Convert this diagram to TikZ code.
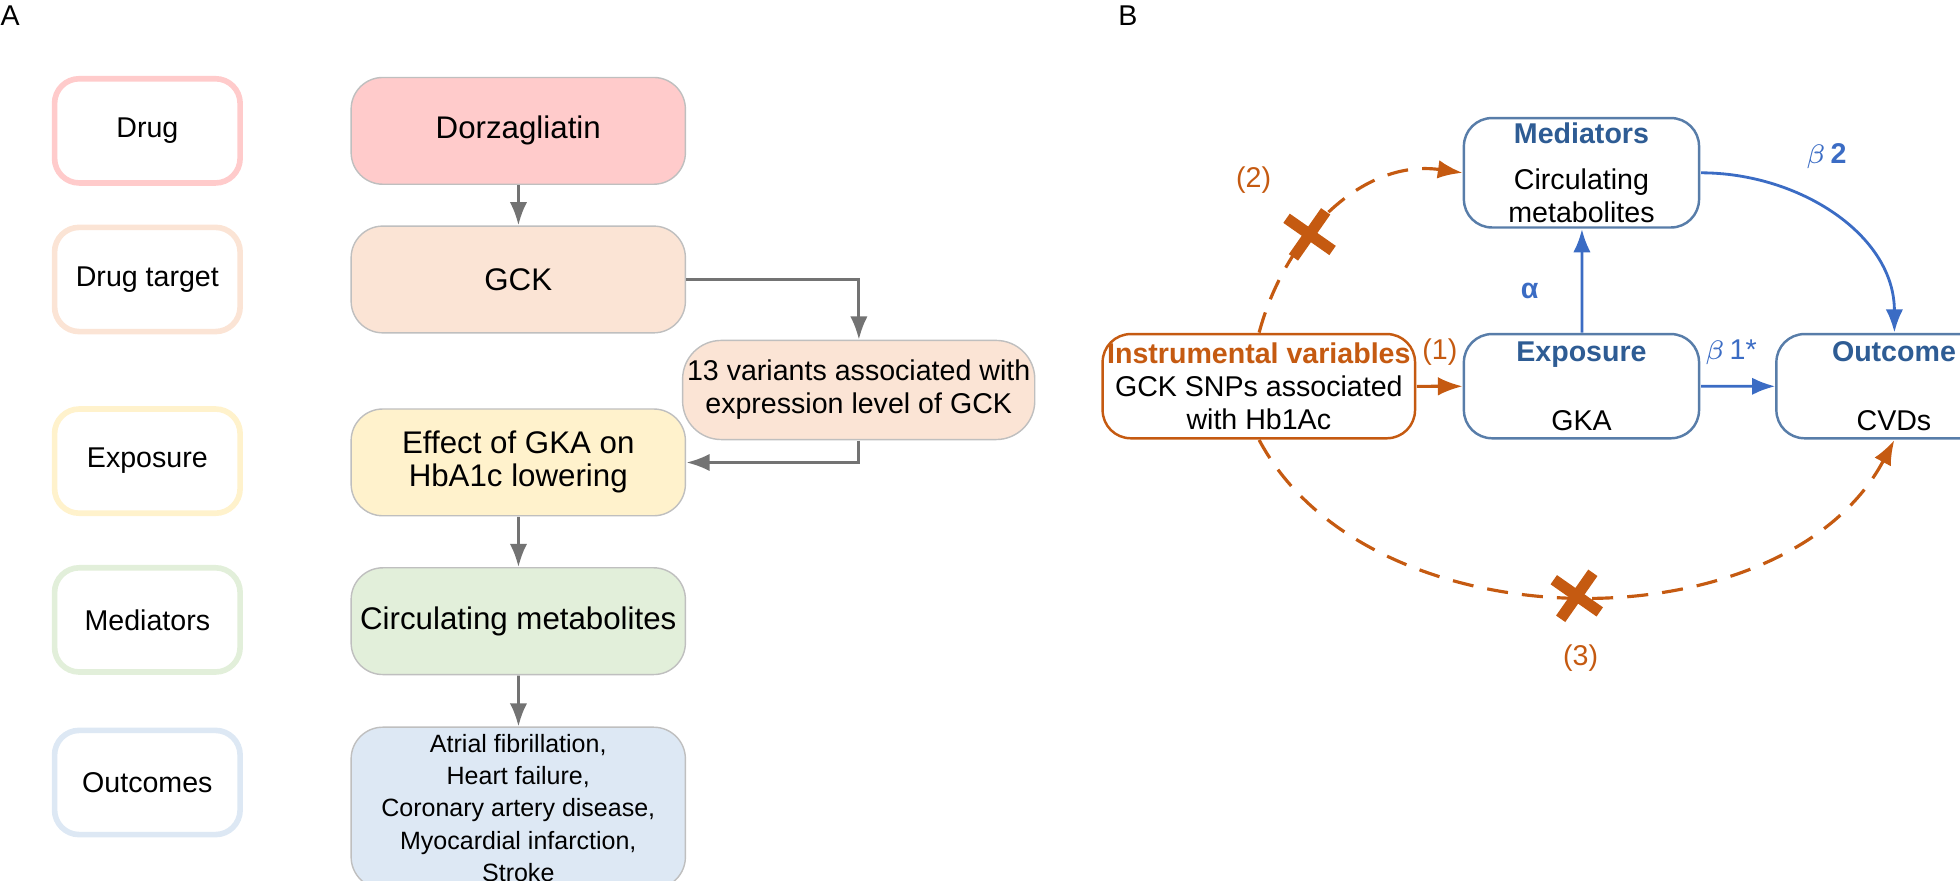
\documentclass[tikz,border=0pt]{standalone}
\usepackage{fontspec}
\setmainfont{Liberation Sans}
\usetikzlibrary{positioning,arrows.meta,shapes.misc}
\definecolor{rDrug}{HTML}{FFCBCB}
\definecolor{rTarget}{HTML}{FBE4D5}
\definecolor{rExp}{HTML}{FFF2CC}
\definecolor{rMed}{HTML}{E2EFDA}
\definecolor{rOut}{HTML}{DDE8F4}
\definecolor{bBlue}{HTML}{2E5C94}
\definecolor{aBlue}{HTML}{3B6CC4}
\definecolor{aOrange}{HTML}{C55A11}
\begin{document}
\begin{tikzpicture}[
    x=0.01cm, y=-0.01cm,
    scale=1.27, transform shape,
    >=Latex,
    font=\fontsize{6.4}{7.4}\selectfont,
    tag/.style={rectangle, rounded corners=7pt, draw=#1, line width=1.6pt, fill=white, minimum width=1.46cm, minimum height=0.82cm, inner sep=1pt},
    step/.style={rectangle, rounded corners=9pt, draw=black!25, fill=#1, minimum width=2.63cm, minimum height=0.84cm, align=center, inner sep=1pt},
    gflow/.style={->, draw=black!55, line width=0.8pt},
    mbox/.style={rectangle, rounded corners=8pt, draw=bBlue!80, line width=0.7pt, fill=white, minimum width=1.85cm, minimum height=0.82cm, align=center, inner sep=1pt},
    bflow/.style={->, draw=aBlue, line width=0.8pt},
    oflow/.style={->, draw=aOrange, line width=0.9pt},
    dflow/.style={->, draw=aOrange, line width=0.9pt, dash pattern=on 6pt off 4pt},
    xmark/.style={cross out, solid, draw=aOrange, line width=3.2pt, minimum size=0.2cm, rotate=10, inner sep=0pt},
    lab/.style={text=aOrange}
]
\useasboundingbox (0,0) rectangle (1543,693);

% Panel A
\node at (8,12) {A};
\node[tag=rDrug]   (tDrug) at (116,103) {Drug};
\node[tag=rTarget] (tTarget) at (116,220) {Drug target};
\node[tag=rExp]    (tExp) at (116,363) {Exposure};
\node[tag=rMed]    (tMed) at (116,488) {Mediators};
\node[tag=rOut]    (tOut) at (116,616) {Outcomes};

\node[step=rDrug]   (dorza) at (408,103) {\fontsize{7}{8}\selectfont Dorzagliatin};
\node[step=rTarget] (gck) at (408,220) {\fontsize{7}{8}\selectfont GCK};
\node[step=rTarget, minimum width=2.69cm, minimum height=0.78cm, rounded corners=11pt] (variants) at (676,307) {13 variants associated with\\expression level of GCK};
\node[step=rExp]    (effect) at (408,364) {\fontsize{7}{8.4}\selectfont Effect of GKA on\\\fontsize{7}{8.4}\selectfont HbA1c lowering};
\node[step=rMed]    (metab) at (408,489) {\fontsize{7}{8}\selectfont Circulating metabolites};
\node[step=rOut, minimum height=1.27cm, font=\fontsize{5.6}{7.2}\selectfont] (outc) at (408,636) {Atrial fibrillation,\\Heart failure,\\Coronary artery disease,\\Myocardial infarction,\\Stroke};

\coordinate (kneeA) at (676,220);
\coordinate (kneeB) at (676,364);
\draw[gflow] (dorza) -- (gck);
\draw[gflow] (gck.east) -- (kneeA) -- (variants.north);
\draw[gflow] (variants.south) -- (kneeB) -- (effect.east);
\draw[gflow] (effect) -- (metab);
\draw[gflow] (metab) -- (outc);

% Panel B
\node at (888,12) {B};
\node[mbox] (med) at (1245,136) {\textbf{\textcolor{bBlue}{Mediators}}\\[3pt]Circulating\\metabolites};
\node[mbox, draw=aOrange, minimum width=2.3cm] (iv) at (991,304) {\textbf{\textcolor{aOrange}{Instrumental variables}}\\GCK SNPs associated\\with Hb1Ac};
\node[mbox] (expo) at (1245,304) {\textbf{\textcolor{bBlue}{Exposure}}\\[8pt]GKA};
\node[mbox] (outcome) at (1491,304) {\textbf{\textcolor{bBlue}{Outcome}}\\[8pt]CVDs};

\draw[oflow] (iv) -- node[lab, above=1pt] {(1)} (expo);
\draw[bflow] (expo) -- node[text=aBlue, above=1pt, pos=0.4] {$\beta$\,1*} (outcome);
\draw[bflow] (expo) -- node[text=aBlue, left=6pt, pos=0.4] {\textbf{α}} (med);
\draw[bflow] (med.east) to[out=0, in=90] node[text=aBlue, above right=1pt, pos=0.3] {$\beta$\,\textbf{2}} (outcome.north);

\draw[dflow] (iv.north) to[out=75, in=172] node[pos=0.38, xmark] (x2) {} (med.west);
\node[lab, above left=2pt and 0pt of x2] {(2)};
\draw[dflow] (iv.south) to[out=-62, in=-118, looseness=0.95] node[pos=0.5, xmark] (x3) {} (outcome.south);
\node[lab, below=3pt of x3] {(3)};
\end{tikzpicture}
\end{document}
